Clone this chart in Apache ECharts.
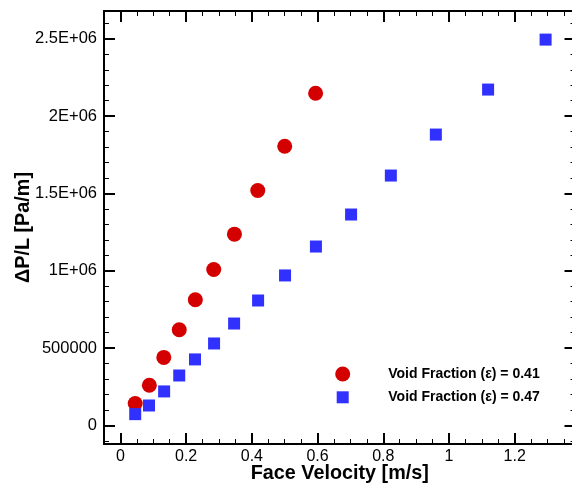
<!DOCTYPE html>
<html>
<head>
<meta charset="utf-8">
<script src="https://cdn.jsdelivr.net/npm/echarts@6/dist/echarts.min.js"></script>
<style>
  html, body { margin: 0; padding: 0; background: #fff; }
  #chart { width: 572px; height: 484px; }
</style>
</head>
<body>
<div id="chart"></div>
<script>
// Pressure drop per unit length vs. face velocity for two packed beds
const seriesNames = ['Void Fraction (\u03b5) = 0.41', 'Void Fraction (\u03b5) = 0.47'];

const velocity041 = [0.045, 0.088, 0.132, 0.179, 0.228, 0.284, 0.347, 0.418, 0.500, 0.594];
const dpdl041 = [142000, 260000, 440000, 619000, 813000, 1008000, 1237000, 1519000, 1805000, 2148000];

const velocity047 = [0.045, 0.087, 0.133, 0.179, 0.227, 0.285, 0.346, 0.419, 0.501, 0.595, 0.702, 0.823, 0.960, 1.119, 1.294];
const dpdl047 = [73000, 129000, 220000, 323000, 427000, 530000, 659000, 808000, 970000, 1157000, 1364000, 1616000, 1881000, 2172000, 2495000];

// Tick values and their labels
const xTickValues = [0, 0.2, 0.4, 0.6, 0.8, 1.0, 1.2];
const xTickLabels = ['0', '0.2', '0.4', '0.6', '0.8', '1', '1.2'];
const yTickValues = [0, 500000, 1000000, 1500000, 2000000, 2500000];
const yTickLabels = ['0', '500000', '1E+06', '1.5E+06', '2E+06', '2.5E+06'];

const X_MIN = -0.05, X_MAX = 1.385, X_MINOR_STEP = 0.05;
const Y_MIN = -120000, Y_MAX = 2680000, Y_MINOR_STEP = 100000;

function steps(lo, hi, step) {
  const out = [];
  const n0 = Math.ceil(lo / step - 1e-9), n1 = Math.floor(hi / step + 1e-9);
  for (let i = n0; i <= n1; i++) out.push(+(i * step).toFixed(6));
  return out;
}
const xMinorValues = steps(X_MIN, X_MAX, X_MINOR_STEP);
const yMinorValues = steps(Y_MIN, Y_MAX, Y_MINOR_STEP);

const FONT = '"Liberation Sans", Arial, Helvetica, sans-serif';

function makeAxis(dim, position, opts) {
  const isX = dim === 'x';
  const labels = isX ? xTickLabels : yTickLabels;
  const values = isX ? xTickValues : yTickValues;
  const ax = {
    type: 'value',
    position: position,
    min: isX ? X_MIN : Y_MIN,
    max: isX ? X_MAX : Y_MAX,
    splitLine: { show: false },
    axisLine: { show: !!opts.line, onZero: false, lineStyle: { color: '#000', width: 2 } },
    axisTick: {
      show: true,
      inside: true,
      length: opts.tickLen,
      customValues: opts.ticks,
      lineStyle: { color: '#000', width: opts.tickWidth }
    },
    axisLabel: { show: false },
    axisPointer: { show: false }
  };
  if (opts.labels) {
    ax.axisLabel = {
      show: true,
      customValues: values,
      margin: isX ? 5 : 7,
      color: '#000',
      fontFamily: FONT,
      fontSize: isX ? 16 : 16.5,
      formatter: function (v) {
        let best = 0;
        for (let i = 0; i < values.length; i++) {
          if (Math.abs(values[i] - v) < Math.abs(values[best] - v)) best = i;
        }
        return labels[best];
      }
    };
  }
  if (opts.name) {
    ax.name = opts.name;
    ax.nameLocation = 'middle';
    ax.nameGap = opts.nameGap;
    ax.nameMoveOverlap = false;
    ax.nameTextStyle = { color: '#000', fontFamily: FONT, fontWeight: 'bold', fontSize: 19.8 };
  }
  return ax;
}

const legendText = { color: '#000', fontFamily: FONT, fontWeight: 'bold', fontSize: 14 };

const option = {
  animation: false,
  backgroundColor: '#fff',
  grid: { left: 104, top: 11, width: 471.5, height: 433, containLabel: false, outerBoundsMode: 'none' },
  xAxis: [
    makeAxis('x', 'bottom', { line: true, labels: true, ticks: xTickValues, tickLen: 11, tickWidth: 2, name: 'Face Velocity [m/s]', nameGap: 20 }),
    makeAxis('x', 'top', { line: true, ticks: xTickValues, tickLen: 11, tickWidth: 2 }),
    makeAxis('x', 'bottom', { line: false, ticks: xMinorValues, tickLen: 5, tickWidth: 1 }),
    makeAxis('x', 'top', { line: false, ticks: xMinorValues, tickLen: 5, tickWidth: 1 })
  ],
  yAxis: [
    makeAxis('y', 'left', { line: true, labels: true, ticks: yTickValues, tickLen: 11, tickWidth: 2, name: '\u0394P/L [Pa/m]', nameGap: 70 }),
    makeAxis('y', 'right', { line: true, ticks: yTickValues, tickLen: 11, tickWidth: 2 }),
    makeAxis('y', 'left', { line: false, ticks: yMinorValues, tickLen: 5, tickWidth: 1 }),
    makeAxis('y', 'right', { line: false, ticks: yMinorValues, tickLen: 5, tickWidth: 1 })
  ],
  legend: [
    {
      data: [{ name: seriesNames[0], icon: 'circle' }],
      left: 335.2, top: 366.5, padding: 0,
      itemWidth: 15, itemHeight: 15,
      selectedMode: false,
      textStyle: Object.assign({ padding: [0, 0, 0, 33] }, legendText)
    },
    {
      data: [{ name: seriesNames[1], icon: 'rect' }],
      left: 336.7, top: 390.3, padding: 0,
      itemWidth: 12, itemHeight: 12,
      selectedMode: false,
      textStyle: Object.assign({ padding: [0, 0, 0, 34.6] }, legendText)
    }
  ],
  series: [
    {
      name: seriesNames[0],
      type: 'scatter',
      xAxisIndex: 0, yAxisIndex: 0,
      symbol: 'circle',
      symbolSize: 15,
      itemStyle: { color: '#d40000', opacity: 1 },
      data: velocity041.map((v, i) => [v, dpdl041[i]])
    },
    {
      name: seriesNames[1],
      type: 'scatter',
      xAxisIndex: 0, yAxisIndex: 0,
      symbol: 'rect',
      symbolSize: 12,
      itemStyle: { color: '#3030ff', opacity: 1 },
      data: velocity047.map((v, i) => [v, dpdl047[i]])
    }
  ]
};

const chart = echarts.init(document.getElementById('chart'), null, { renderer: 'canvas' });
chart.setOption(option);
</script>
</body>
</html>
